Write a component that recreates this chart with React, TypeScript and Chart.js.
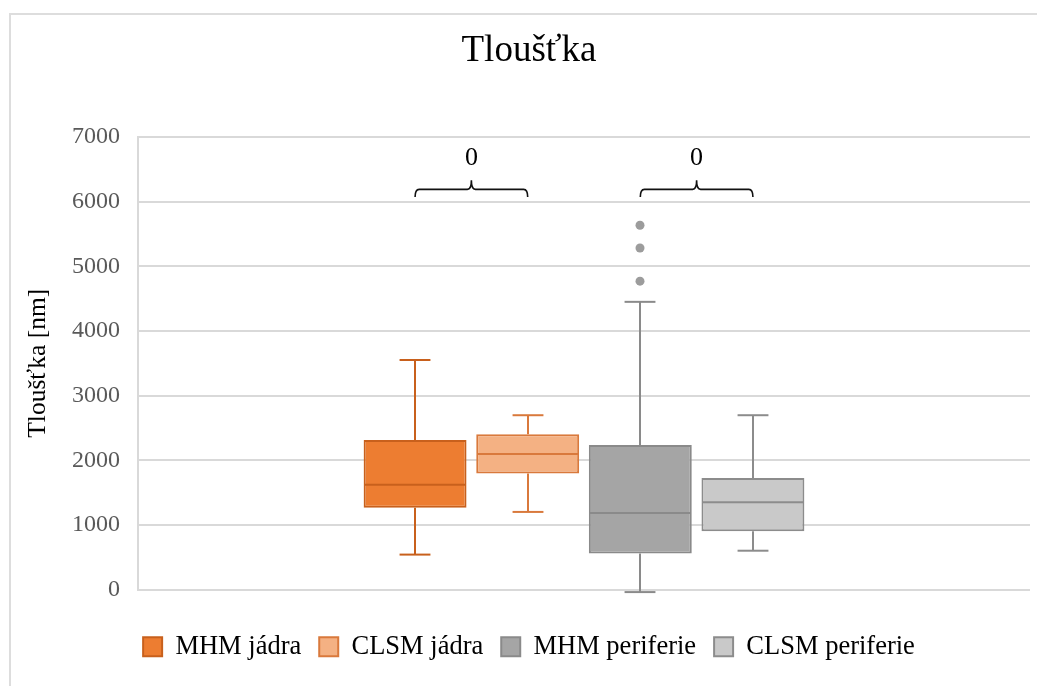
import React, { useEffect, useRef } from "react";
import { Chart, registerables } from "chart.js";

Chart.register(...registerables);

const categories = ["MHM jádra", "CLSM jádra", "MHM periferie", "CLSM periferie"];
const whiskerMin = [540, 1200, -40, 600];
const q1 = [1265, 1795, 555, 900];
const median = [1620, 2095, 1185, 1350];
const q3 = [2313, 2400, 2235, 1725];
const whiskerMax = [3550, 2696, 4450, 2696];
const outliers: number[][] = [[], [], [5634, 5282, 4770], []];
const yTicks = [0, 1000, 2000, 3000, 4000, 5000, 6000, 7000];
const bracketPairs = [
  [0, 1],
  [2, 3],
];
const bracketLabels = ["0", "0"];

const fillColors = ["#ED7D31", "#F4B183", "#A5A5A5", "#C9C9C9"];
const lineColors = ["#C8601C", "#D9793C", "#8A8A8A", "#8C8C8C"];

const FONT = "'Liberation Serif', 'Times New Roman', serif";

const boxPlugin = {
  id: "boxExtras",
  afterDatasetsDraw(chart: any) {
    const ctx = chart.ctx as CanvasRenderingContext2D;
    const ys = chart.scales.y;
    const line = (x1: number, y1: number, x2: number, y2: number) => {
      ctx.beginPath();
      ctx.moveTo(x1, y1);
      ctx.lineTo(x2, y2);
      ctx.stroke();
    };
    categories.forEach((_, i) => {
      const el = chart.getDatasetMeta(i).data[0];
      const cx = Math.round(el.x);
      const w = el.width;
      const cap = w * 0.3;
      ctx.save();
      ctx.strokeStyle = lineColors[i];
      ctx.lineWidth = 2;
      const yq3 = ys.getPixelForValue(q3[i]);
      const yq1 = ys.getPixelForValue(q1[i]);
      const yMax = ys.getPixelForValue(whiskerMax[i]);
      const yMin = ys.getPixelForValue(whiskerMin[i]);
      const yMed = ys.getPixelForValue(median[i]);
      line(cx, yq3, cx, yMax);
      line(cx - cap / 2, yMax, cx + cap / 2, yMax);
      line(cx, yq1, cx, yMin);
      line(cx - cap / 2, yMin, cx + cap / 2, yMin);
      line(cx - w / 2 + 1, yMed, cx + w / 2 - 1, yMed);
      outliers[i].forEach((v) => {
        ctx.beginPath();
        ctx.arc(cx, ys.getPixelForValue(v), 4.5, 0, Math.PI * 2);
        ctx.fillStyle = "#9C9C9C";
        ctx.fill();
      });
      ctx.restore();
    });

    // brackets
    const yEnd = ys.getPixelForValue(6070);
    const yLine = ys.getPixelForValue(6190);
    const yTip = ys.getPixelForValue(6330);
    const yLabel = ys.getPixelForValue(6670);
    bracketPairs.forEach((pair, k) => {
      const x1 = chart.getDatasetMeta(pair[0]).data[0].x;
      const x2 = chart.getDatasetMeta(pair[1]).data[0].x;
      const xm = (x1 + x2) / 2;
      const r = 4;
      ctx.save();
      ctx.strokeStyle = "#111";
      ctx.lineWidth = 1.6;
      ctx.beginPath();
      ctx.moveTo(x1, yEnd);
      ctx.quadraticCurveTo(x1, yLine, x1 + r, yLine);
      ctx.lineTo(xm - r, yLine);
      ctx.quadraticCurveTo(xm, yLine, xm, yTip);
      ctx.quadraticCurveTo(xm, yLine, xm + r, yLine);
      ctx.lineTo(x2 - r, yLine);
      ctx.quadraticCurveTo(x2, yLine, x2, yEnd);
      ctx.stroke();
      ctx.fillStyle = "#000";
      ctx.font = `26px ${FONT}`;
      ctx.textAlign = "center";
      ctx.textBaseline = "middle";
      ctx.fillText(bracketLabels[k], xm, yLabel);
      ctx.restore();
    });
  },
};

export default function App() {
  const ref = useRef<HTMLCanvasElement>(null);
  useEffect(() => {
    if (!ref.current) return;
    const chart = new Chart(ref.current, {
      type: "bar",
      data: {
        labels: [""],
        datasets: categories.map((name, i) => ({
          label: name,
          data: [[q1[i], q3[i]]] as any,
          backgroundColor: fillColors[i],
          borderColor: lineColors[i],
          borderWidth: 2,
          borderSkipped: false,
          categoryPercentage: 0.505,
          barPercentage: 0.914,
        })),
      },
      options: {
        responsive: false,
        animation: false,
        layout: { padding: { left: 0, right: 0, top: 0, bottom: 16 } },
        plugins: {
          tooltip: { enabled: false },
          title: {
            display: true,
            text: "Tloušťka",
            color: "#000",
            font: { family: FONT, size: 37, weight: "normal" },
            padding: { top: 14.5, bottom: 63.1 },
          },
          legend: {
            position: "bottom",
            labels: {
              color: "#000",
              font: { family: FONT, size: 26.5 },
              boxWidth: 19,
              boxHeight: 19,
              padding: 18,
            },
          },
        },
        scales: {
          x: {
            display: true,
            grid: { display: false },
            border: { display: false },
            ticks: { display: false },
            afterFit: (s: any) => {
              s.height = 26;
            },
          },
          y: {
            min: 0,
            max: 7000,
            afterBuildTicks: (s: any) => {
              s.ticks = yTicks.map((v) => ({ value: v }));
            },
            afterFit: (s: any) => {
              s.width = 127;
            },
            grid: { color: "#D9D9D9", lineWidth: 2, drawTicks: false },
            border: { display: true, color: "#D9D9D9", width: 2 },
            ticks: {
              color: "#595959",
              font: { family: FONT, size: 24 },
              padding: 18,
              callback: (v: any) => String(v),
            },
            title: {
              display: true,
              text: "Tloušťka [nm]",
              color: "#000",
              font: { family: FONT, size: 25.5 },
              padding: { top: 12, bottom: 0 },
            },
          },
          yRight: {
            position: "right",
            display: true,
            min: 0,
            max: 7000,
            grid: { display: false },
            border: { display: false },
            ticks: { display: false },
            afterFit: (s: any) => {
              s.width = 17;
            },
          },
        },
      },
      plugins: [boxPlugin],
    });
    return () => chart.destroy();
  }, []);

  return (
    <div
      style={{
        position: "absolute",
        left: 0,
        top: 0,
        width: 1037,
        height: 686,
        overflow: "hidden",
        background: "#fff",
      }}
    >
      <div
        style={{
          position: "absolute",
          left: 9,
          top: 13,
          width: 1100,
          height: 700,
          borderLeft: "2px solid #DDDDDD",
          borderTop: "2px solid #DDDDDD",
        }}
      />
      <div style={{ position: "absolute", left: 11, top: 15 }}>
        <canvas ref={ref} width={1036} height={671} />
      </div>
    </div>
  );
}
